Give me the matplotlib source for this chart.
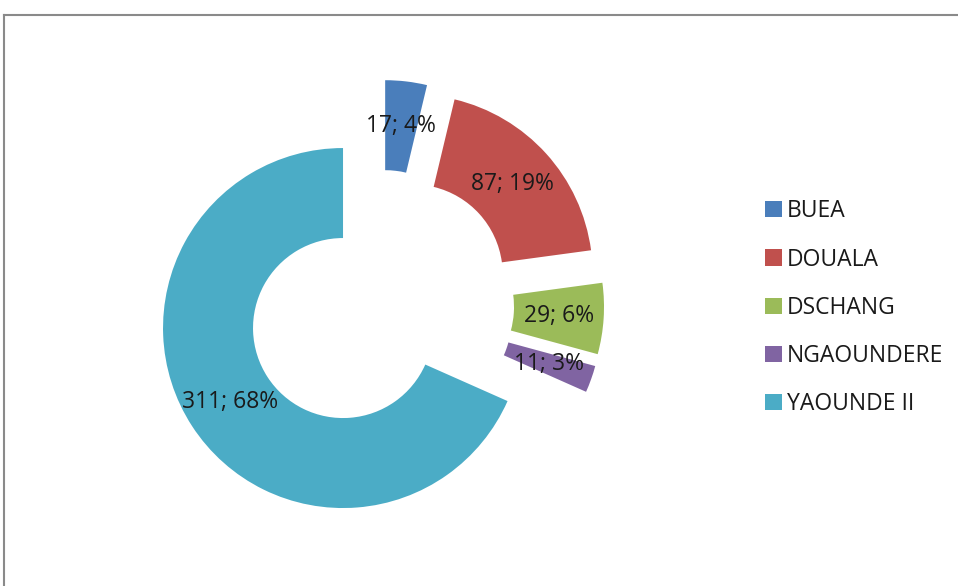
import numpy as np
import matplotlib.pyplot as plt
from matplotlib.lines import Line2D

# campus counts
campuses = ["BUEA", "DOUALA", "DSCHANG", "NGAOUNDERE", "YAOUNDE II"]
counts = [17, 87, 29, 11, 311]
pct_shown = [4, 19, 6, 3, 68]
colors = ["#4A7EBB", "#C0504D", "#9BBB59", "#8064A2", "#4BACC6"]

plt.rcParams['font.family'] = ['Open Sans', 'DejaVu Sans']

W, H = 958, 586
fig = plt.figure(figsize=(W / 100, H / 100), dpi=100)
ax = fig.add_axes([0, 0, 1, 1])

# exploded doughnut, clockwise from 12 o'clock
wedges, texts, autotexts = ax.pie(
    counts, colors=colors, startangle=90, counterclock=False,
    explode=[0.245] * len(counts), radius=1.0,
    wedgeprops=dict(width=0.5, linewidth=0),
    autopct='', pctdistance=0.75,
)
for t, n, p in zip(autotexts, counts, pct_shown):
    t.set_text(f"{n}; {p}%")
    t.set_fontsize(16.5)
    t.set_color("#1a1a1a")

# centre of the ring at pixel (380, 304), 180 px per unit radius
cx, cy, s = 380, 304, 180
ax.set_xlim(-cx / s, (W - cx) / s)
ax.set_ylim(-(H - cy) / s, cy / s)
ax.set_aspect('auto')
ax.axis('off')

leg = fig.legend(
    wedges, campuses, loc='upper left',
    bbox_to_anchor=(754 / W, 1 - 188 / H),
    frameon=False, fontsize=16.5, handlelength=0.7, handleheight=0.7,
    handletextpad=0.25, labelspacing=1.05, borderpad=0,
)
for t in leg.get_texts():
    t.set_color("#1a1a1a")

# chart area border (top and left edges visible)
fig.add_artist(Line2D([4 / W, 1], [1 - 15 / H, 1 - 15 / H], color="#8a8a8a", lw=1.5))
fig.add_artist(Line2D([4 / W, 4 / W], [0, 1 - 15 / H], color="#8a8a8a", lw=1.5))

fig.savefig("out.png", dpi=100, facecolor="white")
